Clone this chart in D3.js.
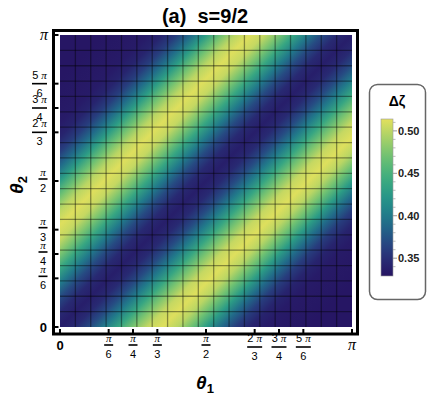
<!DOCTYPE html>
<html>
<head>
<meta charset="utf-8">
<script src="https://cdn.jsdelivr.net/npm/d3@7"></script>
<style>
  body { margin: 0; background: #fff; }
  text { font-family: "Liberation Sans", Arial, sans-serif; }
  .pi { font-family: "Liberation Serif", "DejaVu Serif", serif; font-style: italic; }
</style>
</head>
<body>
<div id="chart"></div>
<script>
var width = 428;
var height = 395;

// theta1 - theta2, in units of pi
var diffPi = [-1.00, -0.95, -0.90, -0.85, -0.80, -0.75, -0.70, -0.65, -0.60, -0.55,
              -0.50, -0.45, -0.40, -0.35, -0.30, -0.25, -0.20, -0.15, -0.10, -0.05,
               0.00,
               0.05,  0.10,  0.15,  0.20,  0.25,  0.30,  0.35,  0.40,  0.45,  0.50,
               0.55,  0.60,  0.65,  0.70,  0.75,  0.80,  0.85,  0.90,  0.95,  1.00];

// delta zeta read along the anti-diagonal of the map
var deltaZeta = [0.331, 0.331, 0.331, 0.331, 0.332, 0.333, 0.335, 0.342, 0.360, 0.390,
                 0.428, 0.468, 0.499, 0.512, 0.503, 0.474, 0.437, 0.400, 0.368, 0.346,
                 0.337,
                 0.346, 0.368, 0.400, 0.437, 0.474, 0.503, 0.512, 0.499, 0.468, 0.428,
                 0.390, 0.360, 0.342, 0.335, 0.333, 0.332, 0.331, 0.331, 0.331, 0.331];

var tickPi   = [0, 1/6, 1/4, 1/3, 1/2, 2/3, 3/4, 5/6, 1];
var tickNum  = ["0", "π", "π", "π", "π", "2 π", "3 π", "5 π", "π"];
var tickDen  = [null, "6", "4", "3", "2", "3", "4", "6", null];

var legendTicks = [0.35, 0.40, 0.45, 0.50];
var legendMinor = [0.34, 0.36, 0.37, 0.38, 0.39, 0.41, 0.42, 0.43, 0.44, 0.46, 0.47, 0.48, 0.49, 0.51];
var zetaRange = [0.329, 0.514];
var meshCount = 19;

var svg = d3.select("#chart").append("svg")
    .attr("width", width)
    .attr("height", height);

var x = d3.scaleLinear().domain([0, Math.PI]).range([60, 352]);
var y = d3.scaleLinear().domain([0, Math.PI]).range([327, 35]);

var color = d3.scaleSequential()
    .domain(zetaRange)
    .interpolator(d3.interpolateRgbBasis(["#261462", "#2a3a80", "#1f6e8b", "#22978a", "#46b47a", "#8fcb6c", "#e3e05c"]));

// density map: value only depends on theta1 - theta2, so one gradient along the anti-diagonal
var defs = svg.append("defs");
var grad = defs.append("linearGradient")
    .attr("id", "mapgrad")
    .attr("gradientUnits", "userSpaceOnUse")
    .attr("x1", x(0)).attr("y1", y(Math.PI))
    .attr("x2", x(Math.PI)).attr("y2", y(0));

grad.selectAll("stop")
    .data(diffPi)
    .enter()
    .append("stop")
    .attr("offset", function(d) { return ((d + 1) / 2 * 100) + "%"; })
    .attr("stop-color", function(d, i) { return color(deltaZeta[i]); });

svg.append("rect")
    .attr("x", x(0)).attr("y", y(Math.PI))
    .attr("width", x(Math.PI) - x(0))
    .attr("height", y(0) - y(Math.PI))
    .attr("fill", "url(#mapgrad)");

// mesh
var meshVals = d3.range(1, meshCount).map(function(i) { return i * Math.PI / meshCount; });
svg.append("g").selectAll("line.v")
    .data(meshVals).enter().append("line")
    .attr("x1", x).attr("x2", x)
    .attr("y1", y(0)).attr("y2", y(Math.PI))
    .attr("stroke", "rgba(0,0,0,0.4)").attr("stroke-width", 1.3);
svg.append("g").selectAll("line.h")
    .data(meshVals).enter().append("line")
    .attr("y1", y).attr("y2", y)
    .attr("x1", x(0)).attr("x2", x(Math.PI))
    .attr("stroke", "rgba(0,0,0,0.4)").attr("stroke-width", 1.3);

// frame
svg.append("rect")
    .attr("x", 53.5).attr("y", 30.5)
    .attr("width", 304).attr("height", 303.5)
    .attr("fill", "none").attr("stroke", "#000").attr("stroke-width", 3);

// ticks
var tickVals = tickPi.map(function(t) { return t * Math.PI; });
svg.append("g").selectAll("line")
    .data(tickVals).enter().append("line")
    .attr("x1", 53.5).attr("x2", 58.5)
    .attr("y1", y).attr("y2", y)
    .attr("stroke", "#000").attr("stroke-width", 2);
svg.append("g").selectAll("line")
    .data(tickVals).enter().append("line")
    .attr("y1", 334).attr("y2", 329)
    .attr("x1", x).attr("x2", x)
    .attr("stroke", "#000").attr("stroke-width", 2);

function numText(sel, s) {
    var parts = s.split(" ");
    if (parts.length === 2) {
        sel.append("tspan").text(parts[0] + " ");
        sel.append("tspan").attr("class", "pi").text("π");
    } else if (s === "π") {
        sel.append("tspan").attr("class", "pi").text("π");
    } else {
        sel.text(s);
    }
}

function fraction(g, cx, barY, i) {
    var wide = tickNum[i].length > 1;
    var bw = wide ? 15 : 9;
    var shift = wide ? 2 : 0;
    var n = g.append("text")
        .attr("x", cx).attr("y", barY - 3)
        .attr("text-anchor", "middle")
        .attr("font-size", 11);
    numText(n, tickNum[i]);
    g.append("line")
        .attr("x1", cx - bw / 2).attr("x2", cx + bw / 2)
        .attr("y1", barY + shift).attr("y2", barY + shift)
        .attr("stroke", "#000").attr("stroke-width", 1.6);
    g.append("text")
        .attr("x", cx).attr("y", barY + 13 + shift)
        .attr("text-anchor", "middle")
        .attr("font-size", 11)
        .text(tickDen[i]);
}

var yLab = svg.append("g");
var xLab = svg.append("g");
tickPi.forEach(function(t, i) {
    var v = t * Math.PI;
    if (tickDen[i] === null) {
        if (tickNum[i] === "0") {
            yLab.append("text").attr("x", 47).attr("y", y(v) + 5)
                .attr("text-anchor", "end").attr("font-size", 13).attr("font-weight", "bold").text("0");
            xLab.append("text").attr("x", x(v)).attr("y", 350)
                .attr("text-anchor", "middle").attr("font-size", 13).attr("font-weight", "bold").text("0");
        } else {
            yLab.append("text").attr("x", 48).attr("y", y(v) + 5)
                .attr("text-anchor", "end").attr("font-size", 16).attr("class", "pi").text("π");
            xLab.append("text").attr("x", x(v)).attr("y", 350)
                .attr("text-anchor", "middle").attr("font-size", 16).attr("class", "pi").text("π");
        }
    } else {
        var wide = tickNum[i].length > 1;
        fraction(yLab, wide ? 39.5 : 43, y(v) - 2, i);
        fraction(xLab, x(v), 345, i);
    }
});

// axis titles
var xt = svg.append("text").attr("x", 205).attr("y", 389)
    .attr("text-anchor", "middle").attr("font-size", 19).attr("font-weight", "bold");
xt.append("tspan").attr("font-style", "italic").text("θ");
xt.append("tspan").attr("font-size", 13).attr("dy", 4).text("1");

var yt = svg.append("text").attr("transform", "translate(23,185) rotate(-90)")
    .attr("text-anchor", "middle").attr("font-size", 19).attr("font-weight", "bold");
yt.append("tspan").attr("font-style", "italic").text("θ");
yt.append("tspan").attr("font-size", 13).attr("dy", 4).text("2");

// title
svg.append("text").attr("x", 205).attr("y", 23)
    .attr("text-anchor", "middle").attr("font-size", 20).attr("font-weight", "bold")
    .attr("xml:space", "preserve")
    .text("(a)  s=9/2");

// legend
var leg = svg.append("g");
leg.append("rect")
    .attr("x", 369.5).attr("y", 84.5).attr("width", 56).attr("height", 215)
    .attr("rx", 8).attr("fill", "#fff").attr("stroke", "#666").attr("stroke-width", 1.5);
leg.append("text").attr("x", 397).attr("y", 106)
    .attr("text-anchor", "middle").attr("font-size", 14).attr("font-weight", "bold").text("Δζ");

var ly = d3.scaleLinear().domain(zetaRange).range([276, 119]);
var lgrad = defs.append("linearGradient").attr("id", "leggrad")
    .attr("x1", 0).attr("y1", 1).attr("x2", 0).attr("y2", 0);
lgrad.selectAll("stop").data(d3.range(0, 1.0001, 0.05)).enter().append("stop")
    .attr("offset", function(d) { return (d * 100) + "%"; })
    .attr("stop-color", function(d) { return color(zetaRange[0] + d * (zetaRange[1] - zetaRange[0])); });
leg.append("rect")
    .attr("x", 381).attr("y", ly(zetaRange[1]))
    .attr("width", 12).attr("height", ly(zetaRange[0]) - ly(zetaRange[1]))
    .attr("fill", "url(#leggrad)").attr("stroke", "#999").attr("stroke-width", 0.6);

leg.selectAll("line.major").data(legendTicks).enter().append("line")
    .attr("x1", 393).attr("x2", 397).attr("y1", ly).attr("y2", ly)
    .attr("stroke", "#999").attr("stroke-width", 1);
leg.selectAll("line.minor").data(legendMinor).enter().append("line")
    .attr("x1", 393).attr("x2", 395.5).attr("y1", ly).attr("y2", ly)
    .attr("stroke", "#aaa").attr("stroke-width", 0.8);
leg.selectAll("text.tick").data(legendTicks).enter().append("text")
    .attr("x", 398).attr("y", function(d) { return ly(d) + 4; })
    .attr("font-size", 11).attr("font-weight", "bold").attr("fill", "#222")
    .text(function(d) { return d3.format(".2f")(d); });
</script>
